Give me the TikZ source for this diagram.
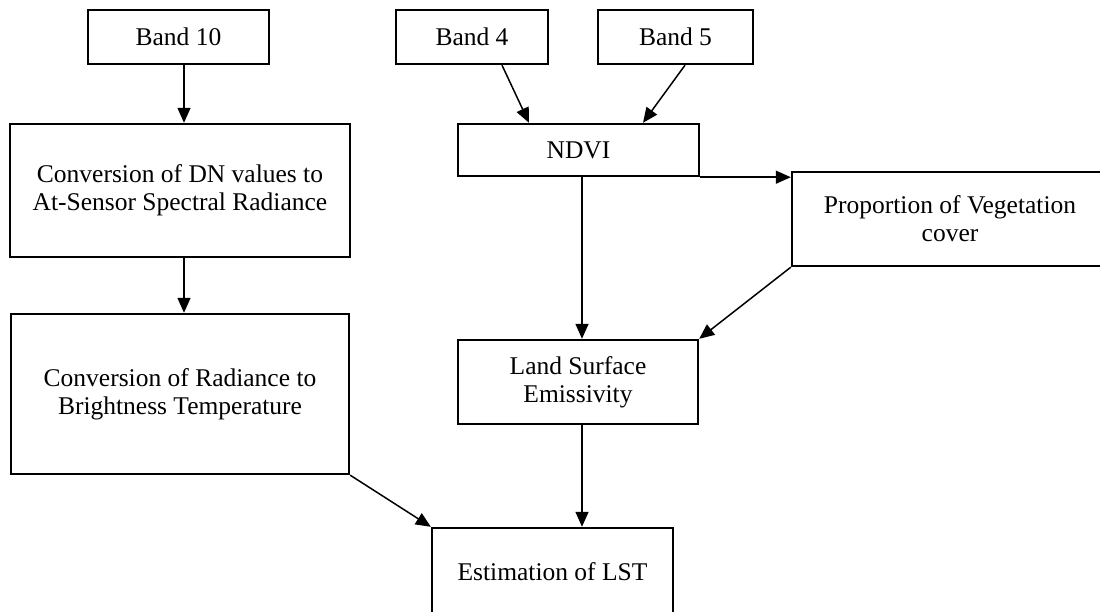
\documentclass[tikz,border=0pt]{standalone}
\usepackage{fontspec}
\setmainfont{Liberation Serif}
\usetikzlibrary{arrows.meta}
\begin{document}
\begin{tikzpicture}[x=1pt,y=-1pt,
  box/.style={draw, line width=2.4pt, inner sep=0pt, align=center,
    font=\fontsize{25.5}{28}\selectfont},
  conn/.style={line width=1.5pt, -{Triangle[length=15pt,width=13pt]}}]
\clip (0,0) rectangle (1100,612);
\fill[white] (0,0) rectangle (1100,612);
% boxes (centers from pixel measurements)
\node[box, minimum width=181pt, minimum height=54pt] (b10) at (178.5,37) {Band 10};
\node[box, minimum width=152pt, minimum height=54pt] (b4) at (472,37) {Band 4};
\node[box, minimum width=155pt, minimum height=54pt] (b5) at (675.5,37) {Band 5};
\node[box, minimum width=340pt, minimum height=133pt] (dn) at (180,190.5) {Conversion of DN values to\\At-Sensor Spectral Radiance};
\node[box, minimum width=241pt, minimum height=52pt] (ndvi) at (578.5,150) {NDVI};
\node[box, minimum width=316pt, minimum height=94pt] (prop) at (950,219) {Proportion of Vegetation\\cover};
\node[box, minimum width=338pt, minimum height=160pt] (rad) at (180,394) {Conversion of Radiance to\\Brightness Temperature};
\node[box, minimum width=240pt, minimum height=84pt] (lse) at (578,382) {Land Surface\\Emissivity};
\node[box, minimum width=241pt, minimum height=88pt] (est) at (552.5,572) {Estimation of LST};
% connectors
\draw[conn] ([xshift=5.5pt]b10.south) -- ([xshift=4pt]dn.north);
\draw[conn] ([xshift=30pt]b4.south) -- ([xshift=-49.5pt]ndvi.north);
\draw[conn] ([xshift=9.5pt]b5.south) -- ([xshift=64.5pt]ndvi.north);
\draw[conn] (ndvi.south east) -- (ndvi.south east -| prop.west);
\draw[conn] ([xshift=3.5pt]ndvi.south) -- ([xshift=4pt]lse.north);
\draw[conn] (prop.south west) -- (lse.north east);
\draw[conn] ([xshift=4pt]dn.south) -- ([xshift=4pt]rad.north);
\draw[conn] (rad.south east) -- (est.north west);
\draw[conn] ([xshift=4pt]lse.south) -- ([xshift=29.5pt]est.north);
\end{tikzpicture}
\end{document}
